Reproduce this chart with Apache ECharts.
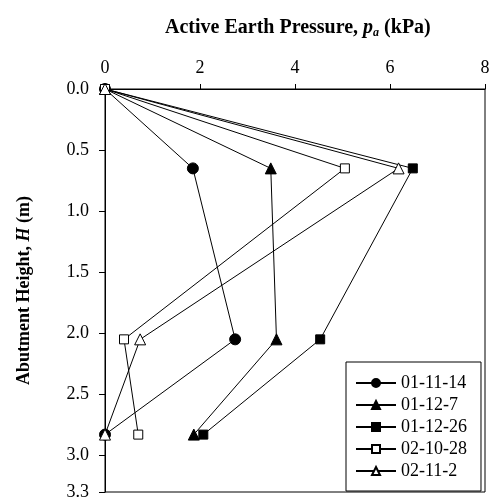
<!DOCTYPE html>
<html>
<head>
<meta charset="utf-8">
<script src="https://cdn.jsdelivr.net/npm/echarts@6/dist/echarts.min.js"></script>
<style>
  html, body { margin: 0; padding: 0; background: #fff; }
  #chart { width: 496px; height: 501px; }
</style>
</head>
<body>
<div id="chart"></div>
<script>
// 数据：深度 (m) 与各测次主动土压力 (kPa)
var depths = [0, 0.65, 2.05, 2.83];
var seriesNames = ['01-11-14', '01-12-7', '01-12-26', '02-10-28', '02-11-2'];
var p011114 = [0, 1.85, 2.74, 0];
var p01127 = [0, 3.49, 3.61, 1.87];
var p011226 = [0, 6.48, 4.53, 2.07];
var p021028 = [0, 5.05, 0.40, 0.70];
var p02112 = [0, 6.18, 0.74, 0];
var xTicks = [0, 2, 4, 6, 8];

var serif = "'Liberation Serif', 'Times New Roman', serif";

function pairs(values) {
  return values.map(function (v, i) { return [v, depths[i]]; });
}

function makeSeries(name, values, symbol, size, filled) {
  return {
    name: name,
    type: 'line',
    data: pairs(values),
    symbol: symbol,
    symbolSize: size,
    showAllSymbol: true,
    lineStyle: { color: '#000', width: 1 },
    itemStyle: {
      color: filled ? '#000' : '#fff',
      borderColor: '#000',
      borderWidth: 1
    },
    emphasis: { disabled: true }
  };
}

var chart = echarts.init(document.getElementById('chart'));
var option = {
  animation: false,
  backgroundColor: '#fff',
  title: {
    text: '{b|Active Earth Pressure, }{i|p}{s|a}{b| (kPa)}',
    left: 160,
    top: 12,
    textStyle: {
      rich: {
        b: { fontFamily: serif, fontWeight: 'bold', fontSize: 20, color: '#000' },
        i: { fontFamily: serif, fontWeight: 'bold', fontStyle: 'italic', fontSize: 20, color: '#000' },
        s: { fontFamily: serif, fontWeight: 'bold', fontStyle: 'italic', fontSize: 12, color: '#000', padding: [10, 0, 0, 0] }
      }
    }
  },
  grid: {
    left: 105,
    right: 11,
    top: 89,
    bottom: 6,
    show: true,
    borderColor: '#000',
    borderWidth: 1
  },
  legend: {
    orient: 'vertical',
    left: 346,
    top: 362,
    height: 131,
    padding: [11, 14, 10, 9],
    itemWidth: 40,
    itemHeight: 10,
    itemGap: 2,
    borderColor: '#000',
    borderWidth: 1,
    backgroundColor: '#fff',
    textStyle: { fontFamily: serif, fontSize: 18, lineHeight: 20, color: '#000' },
    data: seriesNames
  },
  xAxis: {
    type: 'value',
    position: 'top',
    min: 0,
    max: 8,
    interval: 2,
    axisLine: { show: true, lineStyle: { color: '#000', width: 1 } },
    axisTick: { show: true, inside: false, length: 5, lineStyle: { color: '#000' } },
    splitLine: { show: false },
    axisLabel: {
      margin: 12,
      fontFamily: serif,
      fontSize: 18,
      color: '#000',
      formatter: function (v) { return xTicks.indexOf(v) >= 0 ? String(v) : ''; }
    }
  },
  yAxis: {
    type: 'value',
    inverse: true,
    min: 0,
    max: 3.3,
    interval: 0.5,
    name: '{b|Abutment Height, }{i|H}{b| (m)}',
    nameLocation: 'middle',
    nameGap: 72,
    nameRotate: 90,
    nameTextStyle: {
      rich: {
        b: { fontFamily: serif, fontWeight: 'bold', fontSize: 18, color: '#000' },
        i: { fontFamily: serif, fontWeight: 'bold', fontStyle: 'italic', fontSize: 18, color: '#000' }
      }
    },
    axisLine: { show: true, lineStyle: { color: '#000', width: 1 } },
    axisTick: { show: true, inside: false, length: 6, lineStyle: { color: '#000' } },
    splitLine: { show: false },
    axisLabel: {
      margin: 16,
      fontFamily: serif,
      fontSize: 18,
      color: '#000',
      showMaxLabel: true,
      formatter: function (v) { return v.toFixed(1); }
    }
  },
  series: [
    makeSeries(seriesNames[0], p011114, 'circle', 11, true),
    makeSeries(seriesNames[1], p01127, 'triangle', 11, true),
    makeSeries(seriesNames[2], p011226, 'rect', 9, true),
    makeSeries(seriesNames[3], p021028, 'rect', 9, false),
    makeSeries(seriesNames[4], p02112, 'triangle', 11, false)
  ]
};
chart.setOption(option);

window.addEventListener('resize', function () {
  chart.resize();
});
</script>
</body>
</html>
